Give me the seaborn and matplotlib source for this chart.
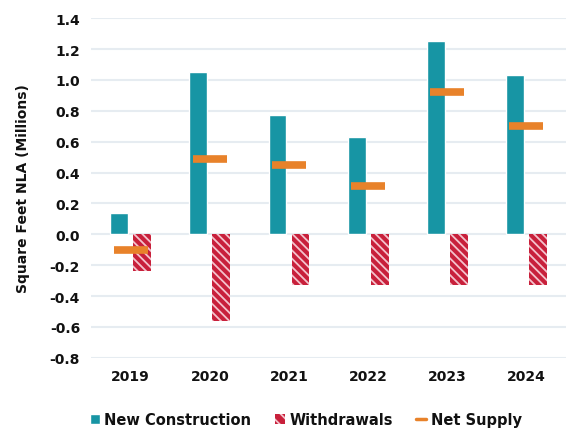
import matplotlib
matplotlib.use("Agg")
import matplotlib.pyplot as plt
import matplotlib.patches as mpatches
from matplotlib.lines import Line2D
import pandas as pd
import seaborn as sns

years = ["2019", "2020", "2021", "2022", "2023", "2024"]
new_construction = [0.14, 1.05, 0.77, 0.63, 1.25, 1.03]
withdrawals = [-0.24, -0.56, -0.33, -0.33, -0.33, -0.33]
net_supply = [-0.10, 0.49, 0.45, 0.31, 0.92, 0.70]
y_ticks = [-0.8, -0.6, -0.4, -0.2, 0.0, 0.2, 0.4, 0.6, 0.8, 1.0, 1.2, 1.4]

teal = "#1795A4"
red = "#C8203B"
orange = "#E8822A"
pink = "#F4C2CC"

sns.set_style("white")
plt.rcParams["font.family"] = ["DejaVu Sans"]
plt.rcParams["text.color"] = "#111111"
plt.rcParams["axes.labelcolor"] = "#111111"
plt.rcParams["xtick.color"] = "#111111"
plt.rcParams["ytick.color"] = "#111111"
plt.rcParams["hatch.linewidth"] = 1.3

bars = pd.DataFrame({
    "year": years * 2,
    "value": new_construction + withdrawals,
    "series": ["New Construction"] * 6 + ["Withdrawals"] * 6,
})
net = pd.DataFrame({"year": years, "value": net_supply})

fig = plt.figure(figsize=(5.66, 4.35), dpi=100)
ax = fig.add_axes([0.161, 0.175, 0.839, 0.781])

sns.barplot(data=bars, x="year", y="value", hue="series",
            palette=[teal, red], saturation=1, width=0.58, gap=0.22,
            legend=False, ax=ax, zorder=3)

# hatch the withdrawals bars
n = len(years)
for p in ax.patches[n:2 * n]:
    p.set_hatch("\\\\\\\\")
    p.set_edgecolor(pink)
    p.set_linewidth(0)

sns.pointplot(data=net, x="year", y="value", color=orange,
              marker="_", linestyle="none", errorbar=None,
              markersize=24, markeredgewidth=5.5, ax=ax, zorder=4)

ax.set_ylim(-0.8, 1.4)
ax.set_yticks(y_ticks)
ax.set_yticklabels([f"{t:.1f}" for t in y_ticks], fontweight="bold", fontsize=10)
ax.set_xticklabels(years, fontweight="bold", fontsize=10)
ax.set_xlim(-0.5, n - 0.5)
ax.grid(axis="y", color="#E6ECF1", linewidth=1.5, zorder=0)
ax.set_axisbelow(True)
for s in ax.spines.values():
    s.set_visible(False)
ax.tick_params(length=0, pad=8)
ax.set_xlabel("")
ax.set_ylabel("Square Feet NLA (Millions)", fontweight="bold", fontsize=10, labelpad=14)

handles = [
    mpatches.Patch(facecolor=teal, label="New Construction"),
    mpatches.Patch(facecolor=red, edgecolor=pink, hatch="\\\\\\", linewidth=0,
                   label="Withdrawals"),
    Line2D([0], [0], color=orange, lw=2.5, label="Net Supply"),
]
fig.legend(handles=handles, loc="lower center", bbox_to_anchor=(0.54, -0.015),
           ncol=3, frameon=False, prop={"weight": "bold", "size": 10.5},
           handlelength=0.7, handleheight=0.7, handletextpad=0.3,
           columnspacing=1.6)

fig.savefig("out.png", dpi=100)
